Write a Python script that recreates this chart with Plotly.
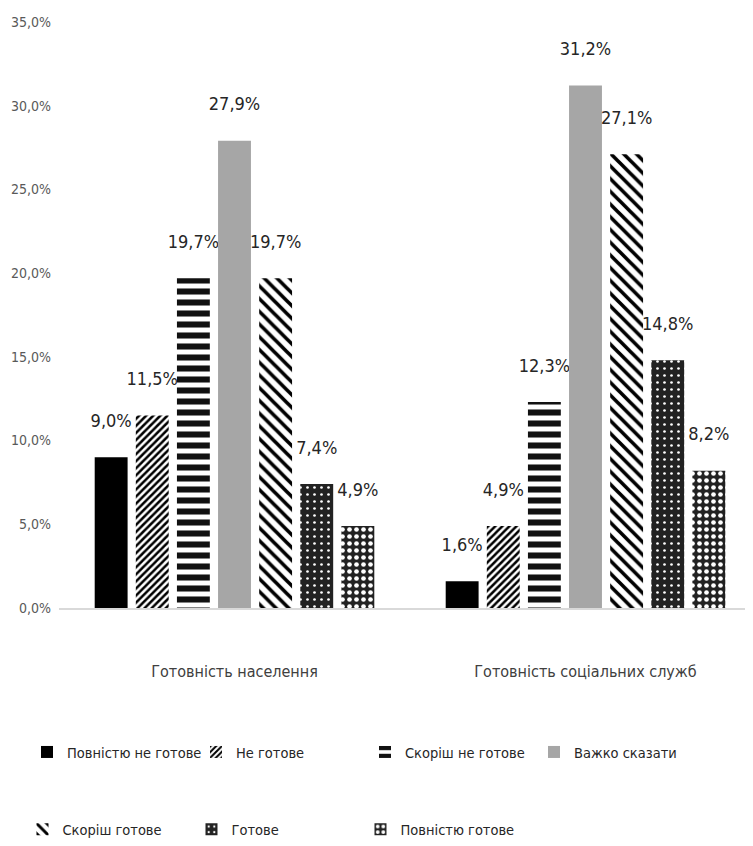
import plotly.graph_objects as go

# categories and series (values in %)
categories = ["Готовність населення", "Готовність соціальних служб"]
series_names = ["Повністю не готове", "Не готове", "Скоріш не готове", "Важко сказати",
                "Скоріш готове", "Готове", "Повністю готове"]
values = {
    "Повністю не готове": [9.0, 1.6],
    "Не готове": [11.5, 4.9],
    "Скоріш не готове": [19.7, 12.3],
    "Важко сказати": [27.9, 31.2],
    "Скоріш готове": [19.7, 27.1],
    "Готове": [7.4, 14.8],
    "Повністю готове": [4.9, 8.2],
}
y_ticks = [0, 5, 10, 15, 20, 25, 30, 35]
y_tick_text = [f"{t:.1f}".replace(".", ",") + "%" for t in y_ticks]

FONT = "Liberation Sans Narrow, DejaVu Sans Condensed, Arial Narrow, Roboto, sans-serif"

# fill styles for each series
styles = {
    "Повністю не готове": dict(color="#000000"),
    "Не готове": dict(color="#000000", pattern=dict(shape="/", fgcolor="#000000", bgcolor="#ffffff",
                                                    fgopacity=1, size=5, solidity=0.5)),
    "Скоріш не готове": dict(color="#000000", pattern=dict(shape="-", fgcolor="#111111", bgcolor="#ffffff",
                                                           fgopacity=1, size=11, solidity=0.55)),
    "Важко сказати": dict(color="#a6a6a6"),
    "Скоріш готове": dict(color="#000000", pattern=dict(shape="\\", fgcolor="#000000", bgcolor="#ffffff",
                                                        fgopacity=1, size=9, solidity=0.4)),
    "Готове": dict(color="#262626", pattern=dict(shape=".", fgcolor="#ffffff", bgcolor="#222222",
                                                 fgopacity=1, size=7, solidity=0.12)),
    "Повністю готове": dict(color="#262626", pattern=dict(shape=".", fgcolor="#ffffff", bgcolor="#222222",
                                                          fgopacity=1, size=7, solidity=0.35)),
}

fig = go.Figure()
for i, name in enumerate(series_names):
    vals = values[name]
    fig.add_trace(go.Bar(
        name=name,
        x=categories,
        y=vals,
        marker=dict(line=dict(width=0), **styles[name]),
        text=[f"{v:.1f}".replace(".", ",") + "%<br> " for v in vals],
        textposition="outside",
        textfont=dict(family=FONT, size=18, color="#262626"),
        constraintext="none",
        cliponaxis=False,
        legend="legend" if i < 4 else "legend2",
    ))

# page body adds an 8px offset, margins below compensate for it
fig.update_layout(
    width=753, height=846,
    paper_bgcolor="white", plot_bgcolor="white",
    margin=dict(l=51, r=0, t=14, b=246),
    barmode="group",
    bargap=0.18,
    bargroupgap=0.2,
    font=dict(family=FONT, color="#404040"),
    showlegend=True,
    legend=dict(orientation="h", x=-0.0456, xanchor="left", y=-0.2185, yanchor="top",
                entrywidth=124, entrywidthmode="pixels", itemwidth=30,
                font=dict(family=FONT, size=14.5, color="#262626"), traceorder="normal"),
    legend2=dict(orientation="h", x=-0.052, xanchor="left", y=-0.3505, yanchor="top",
                 entrywidth=124, entrywidthmode="pixels", itemwidth=30,
                 font=dict(family=FONT, size=14.5, color="#262626"), traceorder="normal"),
)
fig.update_xaxes(
    range=[-0.5, 1.5],
    showline=True, linecolor="#d9d9d9", linewidth=1.5,
    ticks="", showgrid=False, automargin=False,
    tickfont=dict(family=FONT, size=16, color="#404040"),
    ticklabelstandoff=48,
)
fig.update_yaxes(
    range=[0, 35],
    tickvals=y_ticks, ticktext=y_tick_text,
    showgrid=False, zeroline=False, showline=False, ticks="", automargin=False,
    tickfont=dict(family=FONT, size=14, color="#595959"),
    ticklabelstandoff=7,
)

fig.write_html("out.html")
